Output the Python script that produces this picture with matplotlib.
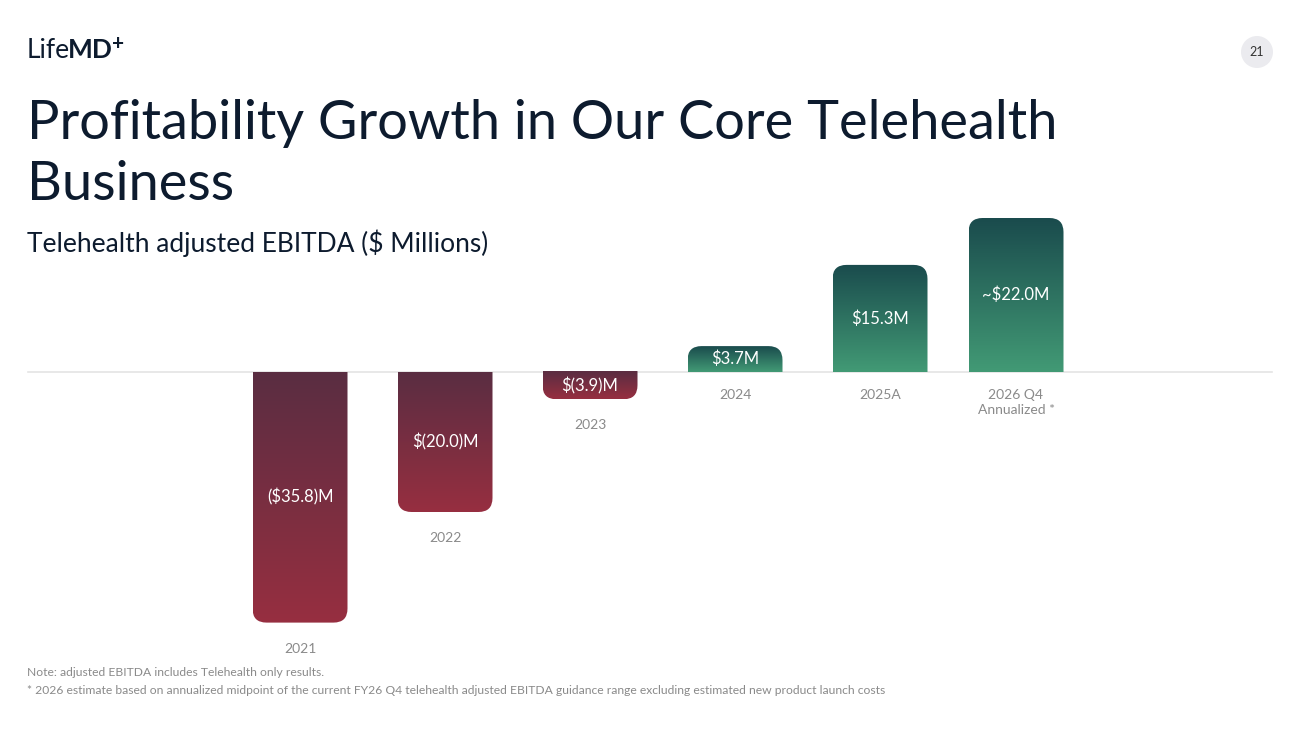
import numpy as np
import matplotlib.pyplot as plt
from matplotlib.patches import FancyBboxPatch, Ellipse
from matplotlib.colors import LinearSegmentedColormap

years = ['2021', '2022', '2023', '2024', '2025A', '2026 Q4\nAnnualized *']
values = [-35.8, -20.0, -3.9, 3.7, 15.3, 22.0]
labels = ['($35.8)M', '$(20.0)M', '$(3.9)M', '$3.7M', '$15.3M', '~$22.0M']

plt.rcParams['font.family'] = ['Lato', 'DejaVu Sans']
W, H = 1300, 731
fig = plt.figure(figsize=(13, 7.31), dpi=100)
ax = fig.add_axes([0, 0, 1, 1])
ax.set_xlim(0, W)
base_px, ppu = 372, 7.0  # pixel row of zero, pixels per $M
ax.set_ylim(-(H - base_px) / ppu, base_px / ppu)
ax.axis('off')

uy = 1 / ppu  # one pixel in data units
ax.plot([28, 1272], [0, 0], color='#e4e4e4', lw=1.2, zorder=1)

xs = [300, 445, 590, 735, 880, 1016]
bw = 95
r = 14
neg_cmap = LinearSegmentedColormap.from_list('n', ['#5a2d42', '#972f40'])
pos_cmap = LinearSegmentedColormap.from_list('p', ['#1a4b4d', '#429a75'])
grad = np.linspace(0, 1, 256).reshape(-1, 1)
for x, v, lab, yr in zip(xs, values, labels, years):
    x0 = x - bw / 2
    if v >= 0:
        patch = FancyBboxPatch((x0, -r * uy), bw, v + r * uy,
                               boxstyle=f'round,pad=0,rounding_size={r}',
                               mutation_aspect=uy, fc='none', ec='none')
        ax.add_patch(patch)
        im = ax.imshow(grad, cmap=pos_cmap, extent=(x0, x0 + bw, 0, v),
                       origin='upper', aspect='auto', zorder=2)
        ax.text(x, 0 - 17 * uy, yr, ha='center', va='top', color='#8a8a8a',
                fontsize=10, linespacing=1.3)
    else:
        patch = FancyBboxPatch((x0, v), bw, -v + r * uy,
                               boxstyle=f'round,pad=0,rounding_size={r}',
                               mutation_aspect=uy, fc='none', ec='none')
        ax.add_patch(patch)
        im = ax.imshow(grad, cmap=neg_cmap, extent=(x0, x0 + bw, v, 0),
                       origin='upper', aspect='auto', zorder=2)
        ax.text(x, v - 26 * uy, yr, ha='center', va='center', color='#8a8a8a', fontsize=10)
    im.set_clip_path(patch)
    ax.text(x, v / 2, lab, ha='center', va='center', color='white', fontsize=12, zorder=3)

# header
fig.text(27 / W, 1 - 50 / H, 'Life', fontsize=19, color='#0d1b2e', va='center')
fig.text(68 / W, 1 - 50 / H, 'MD', fontsize=19, color='#0d1b2e', va='center', fontweight='bold')
fig.text(112 / W, 1 - 44 / H, '+', fontsize=15, color='#0d1b2e', va='center', fontweight='bold')
fig.add_artist(Ellipse((1257 / W, 1 - 52 / H), 32 / W, 32 / H, transform=fig.transFigure,
                       fc='#ebebef', ec='none'))
fig.text(1257 / W, 1 - 52 / H, '21', fontsize=9, color='#333', ha='center', va='center')

fig.text(27 / W, 1 - 123 / H, 'Profitability Growth in Our Core Telehealth', fontsize=39,
         color='#0d1b2e', va='center')
fig.text(27 / W, 1 - 185 / H, 'Business', fontsize=39, color='#0d1b2e', va='center')
fig.text(27 / W, 1 - 243 / H, 'Telehealth adjusted EBITDA ($ Millions)', fontsize=19,
         color='#0d1b2e', va='center')

fig.text(27 / W, 1 - 672 / H, 'Note: adjusted EBITDA includes Telehealth only results.',
         fontsize=8.7, color='#8a8a8a', va='center')
fig.text(27 / W, 1 - 691 / H, '* 2026 estimate based on annualized midpoint of the current FY26 Q4 '
         'telehealth adjusted EBITDA guidance range excluding estimated new product launch costs',
         fontsize=8.7, color='#8a8a8a', va='center')

fig.savefig('out.png', dpi=100)
